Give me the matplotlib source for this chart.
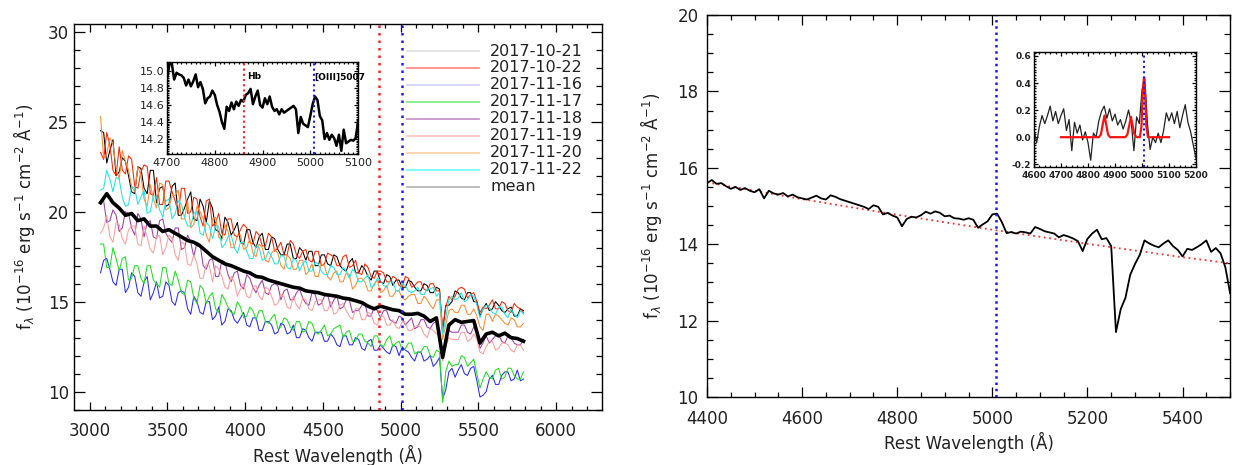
"""Multi-epoch optical spectra with a zoom on the mean spectrum around H-beta / [OIII]."""

import matplotlib

matplotlib.use("Agg")
import matplotlib.pyplot as plt
import numpy as np
from matplotlib.ticker import FormatStrFormatter, MultipleLocator

plt.rcParams["font.family"] = ["DejaVu Sans"]

# ---------------------------------------------------------------- data
EPOCHS = ["2017-10-21", "2017-10-22", "2017-11-16", "2017-11-17",
          "2017-11-18", "2017-11-19", "2017-11-20", "2017-11-22"]

# left panel: rest wavelength grid (A), 20 A steps from 3070 to 5790
EPOCH_WAVE = np.arange(3070, 5791, 20)

FLUX_1021 = [24.5, 24.4, 22.7, 23.4, 24.0, 22.0, 22.2, 23.0, 22.8, 22.0,
             21.1, 21.0, 22.5, 22.4, 21.3, 21.0, 22.3, 22.3, 20.5, 21.3,
             21.4, 20.3, 20.4, 21.4, 21.6, 19.8, 19.8, 20.2, 20.7, 21.1,
             19.6, 19.5, 20.7, 20.3, 19.4, 20.6, 20.2, 19.0, 18.9, 18.5,
             19.7, 19.4, 18.7, 19.0, 19.4, 18.3, 18.2, 19.0, 19.0, 18.3,
             18.0, 18.6, 18.8, 17.9, 17.9, 18.6, 18.5, 17.9, 17.6, 17.6,
             18.2, 18.2, 17.4, 17.4, 18.0, 17.8, 17.3, 17.8, 17.8, 17.0,
             17.0, 17.6, 17.6, 17.1, 17.0, 17.6, 17.5, 17.0, 16.8, 16.7,
             17.2, 17.4, 16.6, 16.6, 17.0, 16.8, 16.4, 16.2, 16.7, 16.7,
             16.1, 16.0, 16.5, 16.4, 15.9, 16.2, 16.2, 15.8, 15.8, 16.2,
             16.1, 15.8, 15.6, 15.6, 16.0, 15.9, 15.5, 15.5, 15.8, 15.7,
             13.3, 14.8, 14.8, 15.0, 15.6, 15.5, 15.2, 15.1, 15.5, 15.5,
             15.0, 15.0, 14.2, 14.6, 14.9, 14.5, 14.6, 15.0, 14.8, 14.5,
             14.4, 14.6, 14.7, 14.2, 14.2, 14.6, 14.5]
FLUX_1022 = [23.3, 22.9, 24.4, 23.7, 22.3, 22.0, 23.6, 22.3, 22.1, 23.1,
             22.9, 21.4, 21.3, 22.2, 22.6, 22.5, 21.0, 20.9, 21.9, 20.4,
             20.4, 21.7, 21.7, 21.1, 20.6, 19.9, 21.3, 21.3, 19.9, 20.0,
             20.8, 20.7, 19.7, 19.2, 20.6, 20.7, 19.2, 19.4, 19.9, 18.8,
             18.7, 19.6, 19.6, 18.7, 18.6, 19.0, 19.3, 19.1, 18.3, 18.2,
             18.9, 18.7, 18.1, 18.1, 18.8, 18.6, 17.8, 18.0, 18.3, 17.6,
             17.6, 18.4, 18.2, 17.6, 17.4, 17.8, 17.9, 17.3, 17.2, 17.8,
             17.8, 17.0, 17.1, 17.7, 17.6, 17.5, 17.0, 17.0, 17.5, 17.6,
             16.9, 17.0, 17.3, 16.6, 16.5, 17.1, 16.9, 16.4, 16.3, 16.7,
             16.7, 16.6, 16.1, 16.1, 16.4, 16.3, 15.9, 15.8, 16.4, 16.3,
             15.8, 15.9, 16.1, 16.1, 15.7, 15.6, 16.0, 16.0, 15.6, 15.6,
             13.5, 14.7, 15.3, 15.1, 15.3, 15.7, 15.8, 15.7, 15.2, 15.4,
             15.5, 15.0, 14.4, 14.7, 14.6, 14.8, 15.1, 14.6, 14.6, 15.0,
             14.9, 14.5, 14.4, 14.9, 14.7, 14.6, 14.4]
FLUX_1116 = [16.6, 17.3, 17.4, 16.8, 16.1, 15.9, 16.8, 16.8, 15.5, 15.8,
             16.6, 16.4, 15.5, 15.3, 16.1, 16.4, 15.1, 15.5, 16.1, 15.2,
             15.3, 16.1, 15.9, 15.0, 14.8, 15.5, 15.6, 15.5, 14.6, 14.3,
             15.3, 15.0, 14.4, 14.3, 15.0, 15.0, 14.0, 14.2, 14.7, 13.7,
             13.9, 14.6, 14.5, 14.0, 13.8, 14.1, 14.4, 13.7, 13.6, 14.1,
             14.1, 13.4, 13.4, 13.9, 13.9, 13.7, 13.2, 13.3, 13.8, 13.7,
             13.2, 13.3, 13.7, 13.0, 13.0, 13.5, 13.4, 13.0, 12.8, 13.3,
             13.3, 13.3, 12.8, 12.8, 13.2, 13.0, 12.6, 12.5, 13.1, 13.1,
             12.6, 12.6, 13.0, 12.9, 12.4, 12.3, 12.8, 12.9, 12.3, 12.3,
             12.6, 12.4, 12.2, 12.1, 12.6, 12.5, 12.0, 12.5, 12.3, 12.2,
             11.9, 11.7, 12.2, 12.2, 11.7, 11.8, 12.0, 11.4, 11.6, 11.9,
             9.6, 10.1, 11.1, 11.3, 10.8, 11.2, 11.5, 11.0, 10.9, 11.3,
             11.4, 10.6, 9.7, 9.8, 10.0, 10.7, 10.9, 10.4, 10.4, 10.9,
             11.1, 11.1, 10.6, 10.7, 11.2, 10.6, 10.7]
FLUX_1117 = [18.2, 18.2, 16.9, 16.9, 18.0, 17.4, 16.7, 17.4, 17.5, 16.2,
             16.3, 17.0, 17.0, 16.3, 16.0, 17.0, 17.0, 16.2, 16.0, 15.8,
             16.9, 16.9, 16.0, 15.9, 16.7, 16.2, 15.5, 15.4, 16.2, 16.1,
             15.2, 14.9, 15.9, 15.7, 14.9, 15.3, 15.5, 14.6, 14.4, 15.4,
             15.1, 14.7, 14.4, 14.3, 15.0, 14.7, 14.1, 14.2, 14.7, 14.5,
             14.0, 14.5, 14.5, 13.9, 13.8, 14.1, 14.3, 13.5, 13.6, 14.1,
             14.0, 13.6, 13.4, 13.9, 13.9, 13.3, 13.4, 13.9, 13.8, 13.3,
             13.2, 13.4, 13.7, 13.1, 13.2, 13.5, 13.6, 13.7, 13.0, 13.3,
             13.4, 12.8, 12.8, 13.2, 13.2, 12.8, 12.7, 12.5, 13.1, 13.1,
             12.6, 12.5, 12.9, 13.1, 12.5, 12.7, 12.8, 12.3, 12.4, 12.7,
             12.7, 12.1, 12.2, 12.2, 12.5, 12.5, 12.0, 11.9, 12.3, 12.2,
             9.4, 11.1, 11.7, 11.4, 11.5, 11.5, 12.0, 11.9, 11.4, 11.6,
             11.8, 11.0, 10.2, 10.7, 11.1, 10.8, 10.7, 11.2, 11.3, 10.7,
             10.8, 11.3, 11.3, 10.9, 10.7, 10.7, 11.1]
FLUX_1118 = [20.6, 20.6, 19.4, 19.5, 20.1, 19.8, 18.9, 19.1, 20.0, 19.9,
             19.1, 18.7, 19.9, 19.6, 18.6, 19.4, 19.5, 18.6, 18.5, 19.5,
             19.6, 18.8, 18.5, 18.3, 19.1, 19.1, 17.9, 18.0, 18.7, 18.3,
             17.5, 18.3, 18.2, 17.0, 16.8, 17.3, 17.4, 16.4, 16.4, 17.3,
             17.2, 16.5, 16.1, 16.6, 16.7, 15.9, 15.7, 16.5, 16.3, 15.8,
             15.5, 15.9, 16.2, 15.5, 15.4, 15.9, 16.0, 15.9, 15.1, 15.6,
             15.7, 15.1, 15.1, 15.5, 15.7, 15.2, 14.9, 14.8, 15.5, 15.4,
             14.8, 14.9, 15.3, 15.4, 14.7, 15.1, 15.3, 14.6, 14.7, 15.1,
             15.1, 14.4, 14.5, 14.5, 14.8, 14.9, 14.2, 14.2, 14.7, 14.5,
             14.1, 14.5, 14.5, 14.0, 13.9, 13.8, 14.2, 14.1, 13.7, 13.9,
             14.1, 13.5, 13.6, 14.0, 14.0, 13.6, 13.5, 13.8, 13.9, 13.5,
             11.9, 12.9, 13.4, 13.3, 13.3, 13.3, 13.7, 13.7, 13.3, 13.2,
             13.6, 13.3, 12.4, 12.7, 13.1, 12.7, 12.9, 13.1, 13.2, 12.8,
             12.7, 13.1, 13.0, 12.7, 12.6, 12.6, 12.9]
FLUX_1119 = [18.8, 19.1, 19.8, 18.6, 18.3, 19.4, 19.3, 18.5, 18.2, 19.0,
             19.2, 19.2, 18.2, 18.1, 19.2, 18.6, 17.9, 17.7, 18.6, 18.7,
             17.6, 18.0, 18.7, 18.5, 17.6, 17.3, 18.3, 18.2, 17.1, 17.0,
             17.6, 17.1, 16.3, 16.3, 17.1, 17.0, 16.1, 17.0, 16.8, 16.4,
             15.8, 15.7, 16.4, 16.1, 15.3, 15.7, 16.0, 15.3, 15.2, 15.8,
             15.9, 15.3, 15.1, 15.8, 15.7, 15.3, 14.8, 14.9, 15.4, 15.3,
             14.7, 14.6, 15.3, 14.8, 14.6, 15.2, 15.1, 14.6, 14.5, 15.0,
             15.1, 15.1, 14.5, 14.5, 15.0, 14.3, 14.4, 14.8, 14.9, 14.5,
             14.2, 14.0, 14.6, 14.6, 14.0, 14.0, 14.4, 14.3, 13.8, 13.7,
             14.2, 14.2, 13.7, 13.7, 14.0, 13.6, 13.5, 13.9, 13.8, 13.4,
             13.4, 13.6, 13.7, 13.6, 13.2, 13.0, 13.5, 13.4, 13.2, 13.2,
             11.7, 12.5, 13.0, 12.9, 12.9, 12.9, 13.3, 13.3, 12.8, 12.9,
             13.2, 12.9, 12.2, 12.1, 12.5, 12.8, 12.8, 12.3, 12.4, 12.7,
             12.7, 12.6, 12.3, 12.2, 12.6, 12.6, 12.3]
FLUX_1120 = [25.3, 23.0, 23.2, 24.1, 23.8, 22.4, 21.8, 23.4, 22.8, 22.3,
             21.4, 21.1, 22.5, 22.0, 20.7, 20.3, 21.5, 20.7, 20.2, 21.6,
             21.5, 20.1, 20.2, 20.9, 20.9, 21.2, 19.6, 19.6, 20.6, 19.1,
             19.3, 20.3, 20.0, 19.6, 18.7, 18.3, 19.6, 19.7, 18.6, 18.4,
             19.3, 18.9, 18.0, 18.0, 18.7, 18.7, 17.9, 18.0, 18.5, 17.7,
             17.5, 18.2, 18.0, 17.3, 17.2, 17.7, 17.9, 17.7, 17.0, 16.8,
             17.6, 17.4, 16.8, 16.8, 17.3, 17.3, 16.5, 16.7, 17.1, 16.4,
             16.4, 17.1, 17.0, 16.4, 16.2, 16.6, 16.7, 16.1, 16.1, 16.6,
             16.5, 15.7, 15.9, 16.3, 16.3, 16.1, 15.6, 15.6, 16.0, 16.2,
             15.5, 15.6, 15.9, 15.3, 15.3, 15.6, 15.6, 15.2, 15.1, 15.3,
             15.4, 15.4, 14.9, 14.9, 15.3, 15.1, 14.8, 14.6, 15.1, 15.1,
             12.9, 13.7, 14.5, 14.6, 14.4, 14.4, 14.8, 14.8, 14.3, 14.3,
             14.6, 14.2, 13.6, 13.4, 14.3, 14.3, 13.9, 14.3, 14.2, 14.0,
             13.8, 13.7, 14.1, 14.0, 13.6, 13.6, 13.8]
FLUX_1122 = [21.2, 21.3, 22.3, 21.8, 21.1, 21.9, 21.8, 20.8, 20.3, 20.4,
             21.4, 21.3, 20.4, 20.8, 21.2, 19.9, 20.0, 20.9, 20.8, 20.1,
             19.7, 20.6, 20.7, 19.6, 19.9, 20.6, 20.4, 19.7, 19.2, 19.2,
             19.9, 20.0, 18.8, 18.7, 19.4, 19.2, 18.5, 19.2, 19.2, 18.0,
             18.2, 18.6, 18.7, 18.0, 17.7, 18.3, 18.3, 17.8, 17.4, 17.4,
             18.1, 18.0, 17.3, 17.4, 17.8, 17.5, 17.1, 17.1, 17.6, 17.5,
             16.9, 16.8, 17.4, 17.3, 16.7, 17.1, 17.3, 16.7, 16.7, 17.2,
             17.1, 16.7, 16.5, 16.5, 17.0, 16.9, 16.5, 16.5, 16.9, 16.7,
             16.3, 16.8, 16.6, 16.1, 16.1, 16.3, 16.5, 15.8, 15.9, 16.3,
             16.2, 15.9, 15.8, 16.1, 16.1, 15.6, 15.6, 16.0, 15.9, 15.6,
             15.5, 15.6, 15.8, 15.4, 15.4, 15.7, 15.7, 15.8, 15.3, 15.5,
             13.2, 14.1, 15.1, 15.3, 15.1, 15.2, 15.5, 15.0, 15.1, 15.4,
             15.3, 14.8, 14.1, 14.6, 14.8, 14.7, 14.4, 14.3, 14.7, 14.7,
             14.3, 14.1, 14.6, 14.3, 14.1, 14.5, 14.3]

EPOCH_FLUX = [FLUX_1021, FLUX_1022, FLUX_1116, FLUX_1117,
              FLUX_1118, FLUX_1119, FLUX_1120, FLUX_1122]

# mean spectrum over the full range, 40 A steps
MEAN_WAVE = np.arange(3070, 5791, 40)
MEAN_FLUX = [20.5, 21.0, 20.5, 20.2, 19.8, 19.9, 19.5, 19.6, 19.2, 19.2,
             18.9, 19.0, 18.8, 18.6, 18.4, 18.3, 18.1, 17.8, 17.5, 17.3,
             17.1, 17.0, 16.85, 16.7, 16.6, 16.4, 16.35, 16.2, 16.1, 16.0,
             15.9, 15.8, 15.75, 15.6, 15.55, 15.5, 15.4, 15.35, 15.3, 15.2,
             15.15, 15.05, 14.95, 14.75, 14.6, 14.75, 14.65, 14.55, 14.5, 14.3,
             14.3, 14.35, 14.2, 13.9, 14.1, 11.9, 13.7, 14.0, 13.85, 13.9,
             13.95, 12.7, 13.2, 13.3, 13.1, 13.25, 13.0, 12.95, 12.8]

# left inset: mean spectrum, 5 A steps, 4700-5100
INSET_WAVE = np.arange(4700, 5101, 5)
INSET_FLUX = [14.91, 15.08, 15.09, 14.90, 14.98, 14.96, 14.95, 14.92, 14.83, 14.90,
              14.82, 14.88, 14.96, 14.81, 14.87, 14.79, 14.62, 14.68, 14.70, 14.77,
              14.72, 14.60, 14.52, 14.40, 14.32, 14.58, 14.53, 14.63, 14.55, 14.64,
              14.59, 14.66, 14.64, 14.72, 14.74, 14.79, 14.61, 14.70, 14.77, 14.60,
              14.57, 14.68, 14.61, 14.70, 14.58, 14.53, 14.55, 14.49, 14.55, 14.51,
              14.53, 14.55, 14.57, 14.59, 14.55, 14.27, 14.46, 14.38, 14.36, 14.34,
              14.47, 14.61, 14.70, 14.66, 14.47, 14.42, 14.20, 14.27, 14.19, 14.25,
              14.21, 14.12, 14.25, 14.06, 14.31, 14.15, 14.17, 14.19, 14.18, 14.21,
              14.40]

# right panel: mean spectrum, 10 A steps, 4400-5500
ZOOM_WAVE = np.arange(4400, 5501, 10)
ZOOM_FLUX = [15.60, 15.68, 15.58, 15.60, 15.52, 15.45, 15.50, 15.42, 15.47, 15.40,
             15.36, 15.44, 15.20, 15.40, 15.33, 15.30, 15.34, 15.25, 15.30, 15.23,
             15.20, 15.17, 15.22, 15.27, 15.20, 15.17, 15.28, 15.24, 15.18, 15.14,
             15.10, 15.06, 15.02, 14.98, 14.92, 15.02, 14.98, 14.78, 14.82, 14.75,
             14.70, 14.47, 14.66, 14.72, 14.70, 14.76, 14.85, 14.80, 14.86, 14.82,
             14.73, 14.75, 14.68, 14.67, 14.64, 14.68, 14.64, 14.43, 14.52, 14.60,
             14.78, 14.80, 14.58, 14.29, 14.32, 14.28, 14.33, 14.31, 14.28, 14.45,
             14.40, 14.34, 14.31, 14.28, 14.18, 14.24, 14.20, 14.15, 14.08, 13.82,
             14.14, 14.28, 14.38, 14.13, 14.16, 13.95, 11.70, 12.30, 12.60, 13.20,
             13.48, 13.72, 14.10, 14.02, 13.96, 13.92, 14.02, 14.10, 13.95, 13.85,
             13.68, 13.88, 13.85, 13.92, 14.00, 14.10, 13.80, 13.90, 13.76, 13.40,
             12.72]

# continuum fit (red dotted)
CONT_WAVE = [4400, 4600, 4800, 5000, 5200, 5400, 5500]
CONT_FLUX = [15.62, 15.18, 14.77, 14.38, 14.01, 13.66, 13.50]

# right inset: continuum-subtracted residual, 10 A steps, 4600-5200
RESID_WAVE = np.arange(4600, 5201, 10)
RESID_FLUX = [0.05, -0.04, 0.08, 0.16, 0.10, 0.16, 0.23, 0.12, 0.19, 0.10,
              0.16, 0.21, 0.05, 0.13, -0.10, 0.11, 0.03, 0.09, -0.02, 0.04,
              -0.04, -0.17, 0.03, 0.00, 0.12, 0.19, 0.23, 0.14, 0.21, 0.12,
              0.17, 0.09, 0.13, 0.06, 0.12, 0.20, 0.11, -0.10, 0.15, 0.10,
              0.35, 0.44, 0.10, -0.09, 0.00, -0.04, 0.03, -0.04, 0.05, 0.18,
              0.12, 0.18, 0.10, 0.19, 0.07, 0.16, 0.24, 0.11, 0.04, -0.06,
              -0.16]

# gaussian line fit (Hb, [OIII]4959, [OIII]5007)
FIT_WAVE = [4700, 4840, 4848, 4855, 4861, 4867, 4874, 4882,
            4938, 4946, 4953, 4959, 4965, 4972, 4980,
            4992, 4998, 5002, 5007, 5012, 5016, 5022, 5100]
FIT_FLUX = [0.0, 0.0, 0.02, 0.10, 0.16, 0.10, 0.02, 0.0,
            0.0, 0.02, 0.09, 0.15, 0.09, 0.02, 0.0,
            0.0, 0.08, 0.30, 0.44, 0.30, 0.08, 0.0, 0.0]

HB_WAVE = 4861
OIII_WAVE = 5007

# ---------------------------------------------------------------- style
EPOCH_COLORS = ["#000000", "#ff2200", "#2a2aff", "#20e020",
                "#9c3fa8", "#ff9c9c", "#ff8a30", "#1de6e6"]
LEGEND_COLORS = ["#e2e2e2", "#ff8c8c", "#d2d2ff", "#80f080",
                 "#c895cc", "#ffc6c6", "#ffd2ac", "#72ffff", "#b8b8b8"]
TEXT_COLOR = "#222222"
YLABEL = r"f$_\lambda$ (10$^{-16}$ erg s$^{-1}$ cm$^{-2}$ Å$^{-1}$)"
XLABEL = "Rest Wavelength (Å)"


def style_axes(ax, xmajor, xminor, ymajor, yminor, xlen, ylen, size, pad_x, pad_y):
    """IDL-like frame: inward ticks on all four sides."""
    ax.xaxis.set_major_locator(MultipleLocator(xmajor))
    ax.xaxis.set_minor_locator(MultipleLocator(xminor))
    ax.yaxis.set_major_locator(MultipleLocator(ymajor))
    ax.yaxis.set_minor_locator(MultipleLocator(yminor))
    ax.tick_params(which="both", direction="in", top=True, right=True,
                   colors="black", labelcolor=TEXT_COLOR, labelsize=size, width=0.9)
    ax.tick_params(axis="x", which="major", length=xlen, pad=pad_x)
    ax.tick_params(axis="x", which="minor", length=xlen * 0.5)
    ax.tick_params(axis="y", which="major", length=ylen, pad=pad_y)
    ax.tick_params(axis="y", which="minor", length=ylen * 0.5)
    for spine in ax.spines.values():
        spine.set_linewidth(1.0)


def draw_legend(ax, labels, colors):
    """Faded IDL-style legend placed at fixed axes fractions."""
    top, step = 0.930, 0.0440
    for i, (label, color) in enumerate(zip(labels, colors)):
        y = top - i * step
        ax.plot([0.630, 0.767], [y, y], transform=ax.transAxes,
                color=color, lw=1.3, clip_on=False)
        ax.text(0.788, y, label, transform=ax.transAxes, fontsize=11.5,
                color=TEXT_COLOR, va="center", ha="left")


def draw_epochs(ax):
    for flux, color in zip(EPOCH_FLUX, EPOCH_COLORS):
        ax.plot(EPOCH_WAVE, flux, color=color, lw=0.75)
    ax.plot(MEAN_WAVE, MEAN_FLUX, color="black", lw=2.6)
    ax.axvline(HB_WAVE, color="#ff2020", ls=(0, (1, 2)), lw=1.8)
    ax.axvline(OIII_WAVE, color="#1a1aff", ls=(0, (1, 2)), lw=1.8)

    ax.set_xlim(2902, 6295)
    ax.set_ylim(8.98, 30.43)
    style_axes(ax, 500, 100, 5, 1, 5.5, 8, 12, 9, 4)
    ax.set_xlabel(XLABEL, fontsize=12, color=TEXT_COLOR, labelpad=3)
    ax.set_ylabel(YLABEL, fontsize=12, color=TEXT_COLOR, labelpad=8)
    draw_legend(ax, EPOCHS + ["mean"], LEGEND_COLORS)


def draw_left_inset(ax):
    ax.plot(INSET_WAVE, INSET_FLUX, color="black", lw=1.8)
    ax.axvline(HB_WAVE, color="#ff2020", ls=(0, (1, 1.5)), lw=1.5)
    ax.axvline(OIII_WAVE, color="#1a1aff", ls=(0, (1, 1.5)), lw=1.5)
    ax.text(HB_WAVE + 6, 14.93, "Hb", fontsize=6.5, fontweight="bold", va="center")
    ax.text(OIII_WAVE + 1, 14.93, "[OIII]5007", fontsize=6.5, fontweight="bold", va="center")
    ax.set_xlim(4700, 5100)
    ax.set_ylim(14.02, 15.11)
    style_axes(ax, 100, 10, 0.2, 0.02, 3, 3, 8, 3, 2)
    ax.yaxis.set_major_formatter(FormatStrFormatter("%.1f"))


def draw_zoom(ax):
    ax.plot(CONT_WAVE, CONT_FLUX, color="#ff3030", ls=(0, (1, 2)), lw=1.3)
    ax.plot(ZOOM_WAVE, ZOOM_FLUX, color="black", lw=1.3)
    ax.axvline(OIII_WAVE, color="#1a1aff", ls=(0, (1, 1.5)), lw=1.8)
    ax.set_xlim(4400, 5500)
    ax.set_ylim(10, 20)
    style_axes(ax, 200, 50, 2, 0.5, 7, 8, 12, 9, 6)
    ax.set_xlabel(XLABEL, fontsize=12, color=TEXT_COLOR, labelpad=3)
    ax.set_ylabel(YLABEL, fontsize=12, color=TEXT_COLOR, labelpad=10)


def draw_right_inset(ax):
    ax.plot(RESID_WAVE, RESID_FLUX, color="#222222", lw=0.9)
    ax.plot(FIT_WAVE, FIT_FLUX, color="#ff1010", lw=1.6)
    ax.axvline(OIII_WAVE, color="#1a1aff", ls=(0, (1, 1.5)), lw=1.5)
    ax.set_xlim(4600, 5200)
    ax.set_ylim(-0.218, 0.627)
    style_axes(ax, 100, 20, 0.2, 0.02, 3, 3, 6.5, 3, 2)
    ax.yaxis.set_major_formatter(FormatStrFormatter("%.1f"))
    for label in ax.get_xticklabels() + ax.get_yticklabels():
        label.set_fontweight("bold")


def main():
    fig = plt.figure(figsize=(12.38, 4.65), dpi=100)
    ax_left = fig.add_axes([0.0601, 0.1183, 0.4262, 0.8301])
    ax_right = fig.add_axes([0.5711, 0.1462, 0.4225, 0.8215])
    ax_inset_l = fig.add_axes([0.1349, 0.6682, 0.1543, 0.1991])
    ax_inset_r = fig.add_axes([0.8352, 0.6415, 0.1309, 0.2460])

    draw_epochs(ax_left)
    draw_left_inset(ax_inset_l)
    draw_zoom(ax_right)
    draw_right_inset(ax_inset_r)

    fig.savefig("out.png", dpi=100)
    plt.close(fig)


if __name__ == "__main__":
    main()
